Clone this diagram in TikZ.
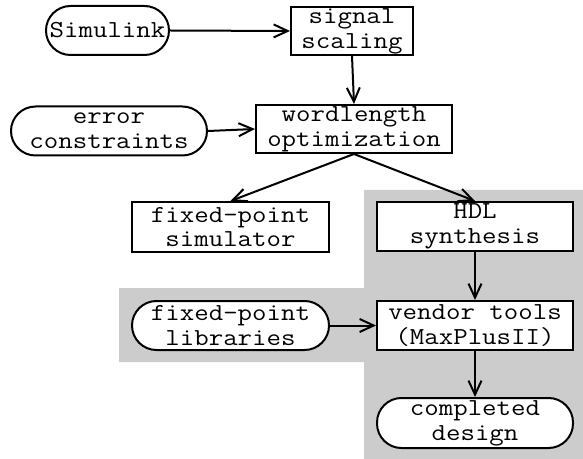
\documentclass[tikz,border=0pt]{standalone}
\usepackage{fontspec}
\newfontfamily\courlike[FakeStretch=1.15]{Latin Modern Mono}
\usetikzlibrary{arrows.meta}
\begin{document}
\begin{tikzpicture}[x=1bp,y=-1bp,
  every node/.style={font=\courlike\fontsize{24.5}{25}\selectfont, align=center, inner sep=0pt, line width=2bp, draw=black, fill=white},
  box/.style={rectangle, minimum width=#1, minimum height=49bp},
  pill/.style={rectangle, rounded corners=24.5bp, minimum width=#1, minimum height=49bp},
  conn/.style={line width=2bp, -{Straight Barb[length=14bp,width=13bp,line width=2bp]}}]
\useasboundingbox (0,0) rectangle (583,459);
\fill[white] (0,0) rectangle (583,459);
\fill[black!20] (364,190) -- (583,190) -- (583,459) -- (364,459) -- (364,362) -- (119,362) -- (119,288) -- (364,288) -- cycle;
\node[pill=123bp] (sim) at (107.5,30.5) {Simulink};
\node[box=122bp, minimum height=48bp] (ss) at (352,31) {signal\\scaling};
\node[pill=196bp] (ec) at (109,131) {error\\constraints};
\node[box=196bp, minimum height=48bp] (wl) at (354,129) {wordlength\\optimization};
\node[box=197bp, minimum height=50bp] (fps) at (230.5,227) {fixed-point\\simulator};
\node[box=196bp] (hdl) at (475,226.5) {HDL\\synthesis};
\node[pill=197bp] (lib) at (230.5,325.5) {fixed-point\\libraries};
\node[box=196bp] (vt) at (475,325.5) {vendor tools\\(MaxPlusII)};
\node[pill=196bp, minimum height=50bp] (cd) at (475,423) {completed\\design};
\draw[conn] (sim.east) -- (ss.west);
\draw[conn] (ss.south) -- (wl.north);
\draw[conn] (ec.east) -- (wl.west);
\draw[conn] (wl.south) -- (fps.north);
\draw[conn] (wl.south) -- (hdl.north);
\draw[conn] (hdl.south) -- (vt.north);
\draw[conn] (lib.east) -- (vt.west);
\draw[conn] (vt.south) -- (cd.north);
\end{tikzpicture}
\end{document}
